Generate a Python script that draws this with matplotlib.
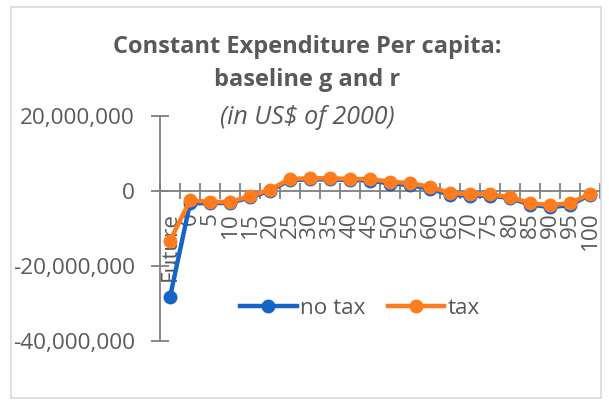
import numpy as np
import matplotlib.pyplot as plt
from matplotlib.patches import Rectangle
from matplotlib.ticker import FuncFormatter, FixedLocator

plt.rcParams['font.family'] = ['Open Sans', 'DejaVu Sans']

categories = ["Future"] + [str(y) for y in range(0, 101, 5)]
no_tax = [-28.3, -3.3, -3.2, -3.2, -1.7, 0.1, 2.9, 3.1, 3.1, 2.9, 2.8,
          2.0, 1.6, 0.6, -1.0, -1.3, -1.2, -1.9, -3.6, -4.3, -3.8, -1.0]
tax = [-13.3, -2.5, -2.9, -2.9, -1.4, 0.4, 3.2, 3.4, 3.4, 3.2, 3.2,
       2.5, 2.1, 1.1, -0.5, -0.9, -0.9, -1.6, -3.2, -3.8, -3.2, -0.8]
yticks = [20e6, 0, -20e6, -40e6]

grey = "#595959"
axis_grey = "#808080"
blue = "#1764C8"
orange = "#FF7C1E"

W, H = 609, 403
fig = plt.figure(figsize=(W / 100, H / 100), dpi=100)
fig.patch.set_facecolor("white")

# light chart border
fig.add_artist(Rectangle((11 / W, 1 - 398 / H), 590 / W, 391 / H,
                         transform=fig.transFigure, fill=False,
                         edgecolor="#d9d9d9", lw=1.2))

ax = fig.add_axes([160 / W, 1 - 341 / H, 440 / W, 225 / H])
x = np.arange(len(categories))
ax.plot(x, np.array(no_tax) * 1e6, color=blue, lw=3.2, marker="o", ms=9,
        label="no tax", zorder=3, clip_on=False)
ax.plot(x, np.array(tax) * 1e6, color=orange, lw=3.2, marker="o", ms=9,
        label="tax", zorder=4, clip_on=False)

ax.set_xlim(-0.5, len(categories) - 0.5)
ax.set_ylim(-40e6, 20e6)

for s in ["top", "right"]:
    ax.spines[s].set_visible(False)
ax.spines["bottom"].set_position(("data", 0))
for s in ["left", "bottom"]:
    ax.spines[s].set_color(axis_grey)
    ax.spines[s].set_linewidth(1.3)

ax.set_yticks(yticks)
ax.yaxis.set_major_formatter(FuncFormatter(lambda v, p: f"{v:,.0f}"))
ax.tick_params(axis="y", direction="inout", length=13, width=1.3,
               color=axis_grey, labelcolor=grey, labelsize=16.2, pad=11.5)

ax.set_xticks(x)
ax.set_xticklabels(categories, rotation=90, va="top", ha="center")
ax.xaxis.set_minor_locator(FixedLocator(np.arange(-0.5, len(categories), 1)))
ax.tick_params(axis="x", which="major", length=0, labelcolor=grey,
               labelsize=16.2, pad=15)
ax.tick_params(axis="x", which="minor", direction="inout", length=11,
               width=1.3, color=axis_grey)

ax.legend(loc="center", bbox_to_anchor=((360 - 160) / 440, (341 - 308) / 225),
          ncol=2, frameon=False, fontsize=16.2, handlelength=2.5,
          handletextpad=0.15, columnspacing=1.0, labelcolor=grey)

fig.text(307 / W, 1 - 47 / H, "Constant Expenditure Per capita:",
         ha="center", va="center", fontsize=17, fontweight="bold", color=grey)
fig.text(307 / W, 1 - 80 / H, "baseline g and r",
         ha="center", va="center", fontsize=17, fontweight="bold", color=grey)
fig.text(307 / W, 1 - 117 / H, "(in US$ of 2000)",
         ha="center", va="center", fontsize=18, style="italic", color=grey)

fig.savefig("out.png", dpi=100)
